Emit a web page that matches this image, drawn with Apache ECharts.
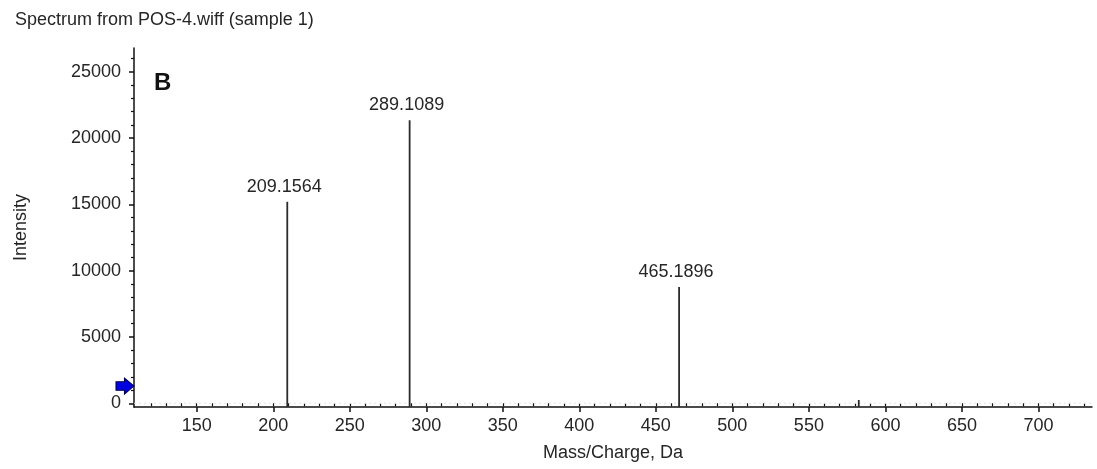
<!DOCTYPE html>
<html>
<head>
<meta charset="utf-8">
<script src="https://cdn.jsdelivr.net/npm/echarts@6/dist/echarts.min.js"></script>
<style>
  html, body { margin: 0; padding: 0; background: #ffffff; }
  #chart { width: 1097px; height: 469px; }
</style>
</head>
<body>
<div id="chart"></div>
<script>
// Peak list: m/z, intensity and printed centroid label
const mzValues = [209.1564, 289.1089, 465.1896, 582.6];
const intensities = [15200, 21350, 8770, 250];
const peakLabels = ['209.1564', '289.1089', '465.1896', ''];

// Axis ranges and tick positions
const mzRange = [109, 735];
const intensityRange = [-280, 26800];
const xTickLabels = [150, 200, 250, 300, 350, 400, 450, 500, 550, 600, 650, 700];
const xMinorTicks = [120, 130, 140, 150, 160, 170, 180, 190, 200, 210, 220, 230, 240, 250, 260, 270, 280, 290, 300,
  310, 320, 330, 340, 350, 360, 370, 380, 390, 400, 410, 420, 430, 440, 450, 460, 470, 480, 490, 500,
  510, 520, 530, 540, 550, 560, 570, 580, 590, 600, 610, 620, 630, 640, 650, 660, 670, 680, 690, 700,
  710, 720, 730];
const yTickLabels = [0, 5000, 10000, 15000, 20000, 25000];
const yMinorTicks = [1000, 2000, 3000, 4000, 6000, 7000, 8000, 9000, 11000, 12000, 13000, 14000,
  16000, 17000, 18000, 19000, 21000, 22000, 23000, 24000, 26000];

// Intensity threshold marker on the y axis
const thresholdLevel = 1300;

const FONT = '"Liberation Sans", Arial, sans-serif';
const TEXT = '#262626';

const peaks = mzValues.map((mz, i) => [mz, intensities[i], peakLabels[i]]);

const chart = echarts.init(document.getElementById('chart'), null, { renderer: 'canvas' });

const plain = v => String(v);

const majorX = {
  type: 'value', position: 'bottom', min: mzRange[0], max: mzRange[1],
  axisLine: { show: true, onZero: false, lineStyle: { color: '#111', width: 1.5 } },
  axisTick: { show: true, length: 5, customValues: xTickLabels, lineStyle: { color: '#111', width: 1.5 } },
  axisLabel: { show: true, customValues: xTickLabels, formatter: plain, margin: 10, color: TEXT, fontSize: 18, fontFamily: FONT },
  splitLine: { show: false },
  name: 'Mass/Charge, Da', nameLocation: 'middle', nameGap: 37,
  nameTextStyle: { color: TEXT, fontSize: 18, fontFamily: FONT }
};
const minorX = {
  type: 'value', position: 'bottom', min: mzRange[0], max: mzRange[1],
  axisLine: { show: false },
  axisTick: { show: true, length: 3, customValues: xMinorTicks, lineStyle: { color: '#111', width: 1.2 } },
  axisLabel: { show: false },
  splitLine: { show: false }
};
const majorY = {
  type: 'value', position: 'left', min: intensityRange[0], max: intensityRange[1],
  axisLine: { show: true, onZero: false, lineStyle: { color: '#111', width: 1.5 } },
  axisTick: { show: true, length: 5, customValues: yTickLabels, lineStyle: { color: '#111', width: 1.5 } },
  axisLabel: { show: true, customValues: yTickLabels, formatter: plain, margin: 13, color: TEXT, fontSize: 18, fontFamily: FONT },
  splitLine: { show: false },
  name: 'Intensity', nameLocation: 'middle', nameGap: 104,
  nameTextStyle: { color: TEXT, fontSize: 18, fontFamily: FONT }
};
const minorY = {
  type: 'value', position: 'left', min: intensityRange[0], max: intensityRange[1],
  axisLine: { show: false },
  axisTick: { show: true, length: 3, customValues: yMinorTicks, lineStyle: { color: '#111', width: 1.2 } },
  axisLabel: { show: false },
  splitLine: { show: false }
};

chart.setOption({
  animation: false,
  backgroundColor: '#ffffff',
  title: {
    text: 'Spectrum from POS-4.wiff (sample 1)',
    left: 10, top: 6,
    textStyle: { color: TEXT, fontSize: 18, fontWeight: 'normal', fontFamily: FONT }
  },
  grid: { left: 134, right: 5, top: 48, bottom: 62 },
  xAxis: [majorX, minorX],
  yAxis: [majorY, minorY],
  graphic: [{
    type: 'text', left: 154, top: 71,
    style: { text: 'B', fill: '#111', font: 'bold 24px ' + FONT }
  }],
  series: [
    {
      // faint noise band along the baseline
      type: 'line', xAxisIndex: 0, yAxisIndex: 0, silent: true, symbol: 'none',
      data: [[mzRange[0], 0], [mzRange[1], 0]],
      lineStyle: { color: '#e4e4e4', width: 1, type: [2, 3] },
      z: 1
    },
    {
      // centroid sticks drawn from the bottom of the axis up to each intensity
      type: 'custom', xAxisIndex: 0, yAxisIndex: 0,
      data: peaks,
      renderItem: function (params, api) {
        const mz = api.value(0);
        const top = api.coord([mz, api.value(1)]);
        const base = api.coord([mz, intensityRange[0]]);
        const label = peakLabels[params.dataIndex];
        const children = [{
          type: 'line',
          shape: { x1: top[0], y1: base[1], x2: top[0], y2: top[1] },
          style: { stroke: '#2b2b2b', lineWidth: 1.8 }
        }];
        if (label) {
          children.push({
            type: 'text',
            style: {
              text: label, x: top[0] - 3, y: top[1] - 6,
              align: 'center', verticalAlign: 'bottom',
              fill: TEXT, font: '18px ' + FONT
            }
          });
        }
        return { type: 'group', children: children };
      },
      z: 3
    },
    {
      // threshold arrow sitting just left of the intensity axis
      type: 'scatter', xAxisIndex: 0, yAxisIndex: 0, silent: true, clip: false,
      data: [[mzRange[0], thresholdLevel]],
      symbol: 'path://M0,3.5 L8,3.5 L8,0 L17,7.5 L8,15 L8,11.5 L0,11.5 Z',
      symbolSize: [18, 16],
      symbolKeepAspect: false,
      symbolOffset: [-9, 0],
      itemStyle: { color: '#0000e0', borderColor: '#000050', borderWidth: 1, opacity: 1 },
      z: 5
    }
  ]
});
</script>
</body>
</html>
